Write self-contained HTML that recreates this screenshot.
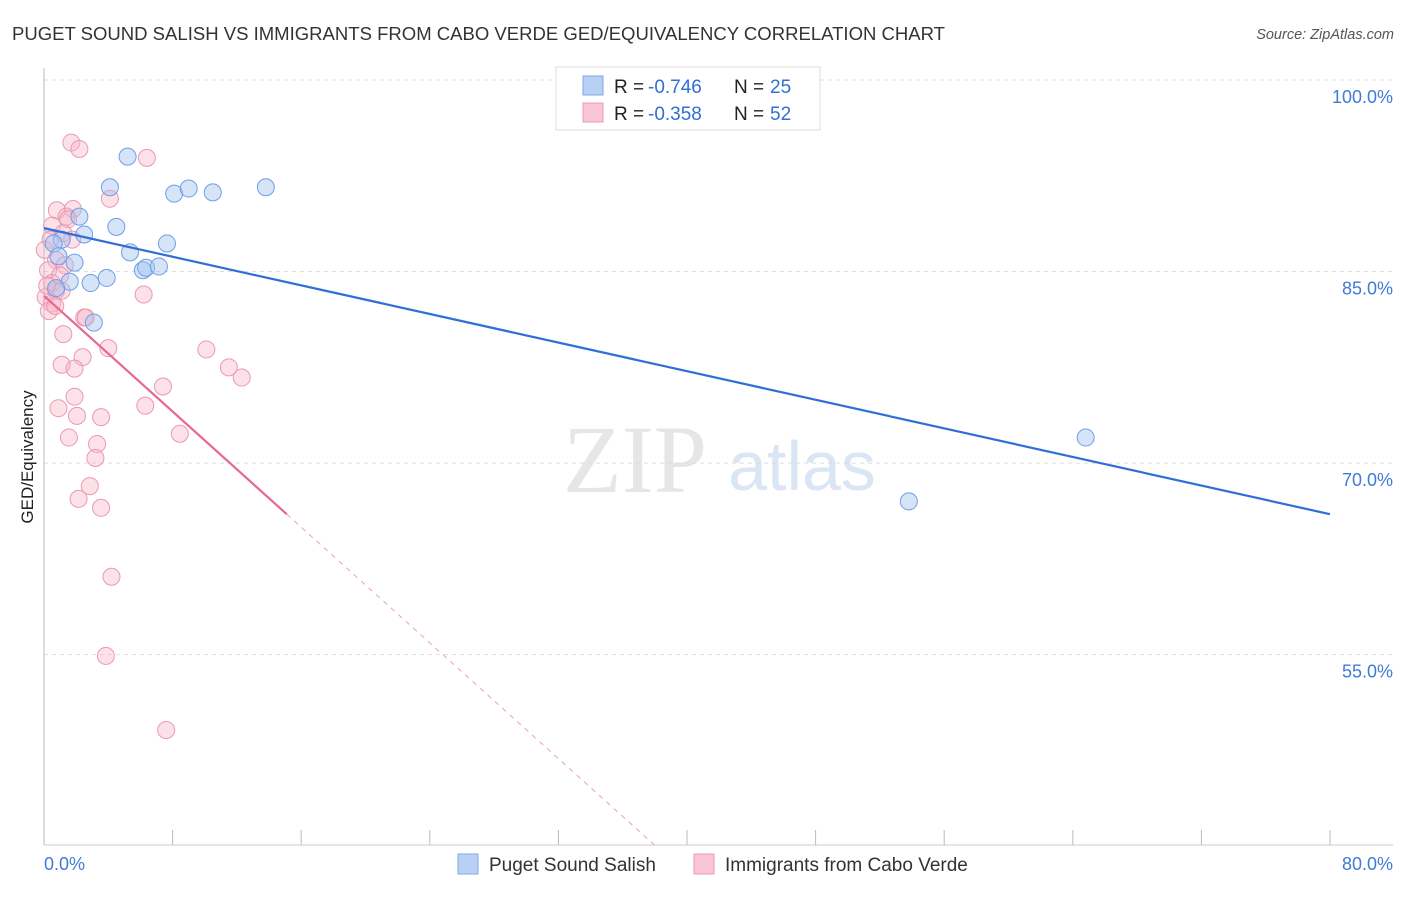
<!DOCTYPE html>
<html><head><meta charset="utf-8"><style>
body{margin:0;background:#fff;font-family:"Liberation Sans",sans-serif}
</style></head><body>
<svg id="c" width="1406" height="892" xmlns="http://www.w3.org/2000/svg">
<text x="12" y="40" font-size="18" fill="#333" textLength="933" lengthAdjust="spacingAndGlyphs">PUGET SOUND SALISH VS IMMIGRANTS FROM CABO VERDE GED/EQUIVALENCY CORRELATION CHART</text>
<text x="1394" y="39" font-size="14.5" fill="#555" font-style="italic" text-anchor="end">Source: ZipAtlas.com</text>
<text x="635" y="492" font-size="96" fill="#e6e6e6" font-family="Liberation Serif,serif" text-anchor="middle">ZIP</text>
<text x="802" y="490" font-size="70" fill="#dbe6f5" text-anchor="middle">atlas</text>
<text transform="translate(33,457) rotate(-90)" font-size="17" fill="#222" text-anchor="middle">GED/Equivalency</text>
<g id="grid"></g><g id="marks"></g>
<g>
<rect x="556" y="67" width="264" height="63" fill="#fff" stroke="#ddd"/>
<rect x="583" y="76" width="20" height="19" fill="#b9d0f5" stroke="#7ea6e6"/>
<rect x="583" y="103" width="20" height="19" fill="#f9c6d5" stroke="#ec9ab3"/>
<text x="614" y="93" font-size="19" fill="#222">R =</text>
<text x="648" y="93" font-size="19" fill="#2f6fd6">-0.746</text>
<text x="734" y="93" font-size="19" fill="#222">N =</text>
<text x="770" y="93" font-size="19" fill="#2f6fd6">25</text>
<text x="614" y="120" font-size="19" fill="#222">R =</text>
<text x="648" y="120" font-size="19" fill="#2f6fd6">-0.358</text>
<text x="734" y="120" font-size="19" fill="#222">N =</text>
<text x="770" y="120" font-size="19" fill="#2f6fd6">52</text>
</g>
<g>
<rect x="458" y="854" width="20" height="20" fill="#b9d0f5" stroke="#7ea6e6"/>
<text x="489" y="871" font-size="19" fill="#333">Puget Sound Salish</text>
<rect x="694" y="854" width="20" height="20" fill="#f9c6d5" stroke="#ec9ab3"/>
<text x="725" y="871" font-size="19" fill="#333">Immigrants from Cabo Verde</text>
</g>
</svg>
<script>
const blueX=[5.2,4.1,8.1,9.0,10.5,13.8,2.2,4.5,2.5,1.1,7.65,0.6,5.35,1.9,6.15,6.35,7.15,0.9,3.9,2.9,1.6,3.1,0.75,53.8,64.8];
const blueY=[94.0,91.6,91.1,91.5,91.2,91.6,89.3,88.5,87.9,87.5,87.2,87.2,86.5,85.7,85.1,85.3,85.4,86.2,84.5,84.1,84.2,81.0,83.7,67.0,72.0];
const pinkX=[1.7,2.2,6.4,4.1,0.8,1.8,1.4,0.5,1.5,1.2,0.4,0.75,1.3,0.25,0.5,0.75,0.1,0.5,0.3,2.5,2.6,6.2,1.2,4.0,10.1,2.4,1.1,1.9,11.5,12.3,7.4,1.9,0.9,6.3,2.05,3.55,1.55,8.45,3.3,3.2,2.85,2.15,3.55,4.2,3.85,7.6,0.2,0.7,1.0,0.05,1.75,1.1];
const pinkY=[95.1,94.6,93.9,90.7,89.8,89.9,89.3,88.6,89.1,88.0,87.5,85.9,85.5,85.1,84.1,83.5,83.0,82.5,81.9,81.4,81.4,83.2,80.1,79.0,78.9,78.3,77.7,77.4,77.5,76.7,76.0,75.2,74.3,74.5,73.7,73.6,72.0,72.3,71.5,70.4,68.2,67.2,66.5,61.1,54.9,49.1,83.9,82.3,84.7,86.7,87.5,83.5];
const xTicks=[0,80];
const yTicks=[100,85,70,55];
const blueLine=[88.4,66.0];
const pinkLine=[83.1,66.0];
const pinkSolidEnd=15.1;
const X=v=>44+v*16.075, Y=v=>80+(100-v)*12.77;
const NS="http://www.w3.org/2000/svg";
const grid=document.getElementById('grid'), marks=document.getElementById('marks');
function mk(tag,attrs,parent){const e=document.createElementNS(NS,tag);for(const k in attrs)e.setAttribute(k,attrs[k]);parent.appendChild(e);return e;}
yTicks.forEach(t=>{
 const l=mk('line',{x1:44,x2:1393,y1:Y(t),y2:Y(t),stroke:'#ddd','stroke-dasharray':'4,4'},grid);
 
 
 const tx=mk('text',{x:1393,y:Y(t)+23,'font-size':18,fill:'#3f7bd8','text-anchor':'end'},grid);
 tx.textContent=t.toFixed(1)+'%';
 
 
});
const ax=mk('line',{x1:44,x2:1393,y1:845,y2:845,stroke:'#ccc'},grid);


const ay=mk('line',{x1:44,x2:44,y1:68,y2:845,stroke:'#bbb'},grid);


for(let i=0;i<=10;i++){const x=X(i*8);const t=mk('line',{x1:x,x2:x,y1:830,y2:845,stroke:'#bbb'},grid);
 
 }
xTicks.forEach((t,i)=>{const tx=mk('text',{x:i?1393:44,y:870,'font-size':18,fill:'#3f7bd8','text-anchor':i?'end':'start'},grid);
 tx.textContent=t.toFixed(1)+'%';
 
 });
function pts(xs,ys,fill,stroke,name){xs.forEach((v,i)=>{const c=mk('circle',{cx:X(v),cy:Y(ys[i]),r:8.5,fill:fill,stroke:stroke,'stroke-width':1},marks);
 
 });}
pts(pinkX,pinkY,'rgba(248,180,200,0.4)','#e99ab2','point-cabo-verde');
pts(blueX,blueY,'rgba(165,195,240,0.45)','#6f9ee8','point-salish');
const bl=mk('line',{x1:X(0),y1:Y(blueLine[0]),x2:X(80),y2:Y(blueLine[1]),stroke:'#2f6fd6','stroke-width':2.2},marks);


const slope=(pinkLine[1]-pinkLine[0])/pinkSolidEnd;
const pl=mk('line',{x1:X(0),y1:Y(pinkLine[0]),x2:X(pinkSolidEnd),y2:Y(pinkLine[1]),stroke:'#e8688f','stroke-width':2.2},marks);


const endX=(40.1-pinkLine[0])/slope;
const pd=mk('line',{x1:X(pinkSolidEnd),y1:Y(pinkLine[1]),x2:X(endX),y2:Y(40.1),stroke:'#eaa0b5','stroke-width':1,'stroke-dasharray':'5,5'},marks);


</script>
</body></html>
